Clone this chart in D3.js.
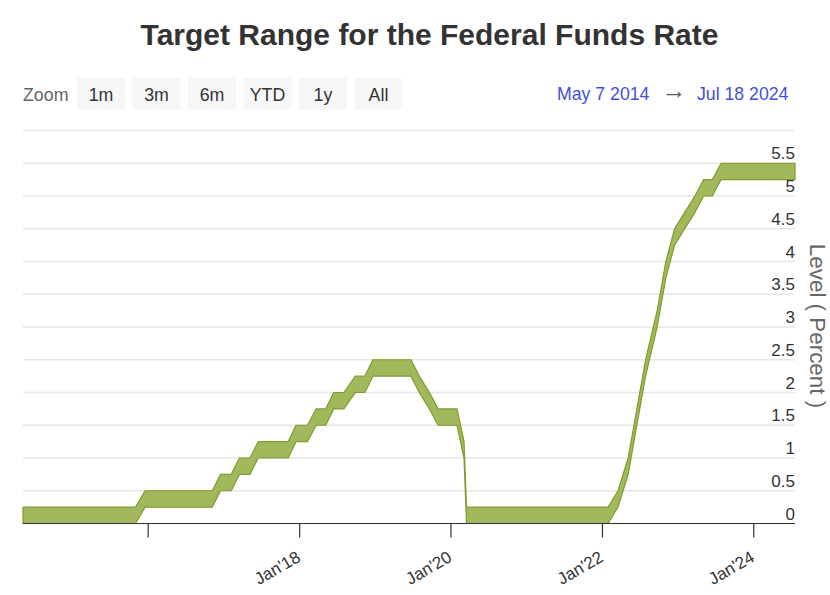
<!DOCTYPE html>
<html>
<head>
<meta charset="utf-8">
<script src="https://cdn.jsdelivr.net/npm/d3@7"></script>
<style>
    html, body { margin: 0; padding: 0; background: #fff; }
    text { font-family: "Liberation Sans", Arial, sans-serif; }
</style>
</head>
<body>
<svg id="chart" width="830" height="595"></svg>
<script>
// target range, one entry per step of the range
var dates = [
    "2014-05-07", "2015-11-01", "2015-12-17", "2016-11-05", "2016-12-15", "2017-02-05",
    "2017-03-16", "2017-05-06", "2017-06-15", "2017-11-07", "2017-12-14", "2018-02-07",
    "2018-03-22", "2018-05-07", "2018-06-14", "2018-08-02", "2018-09-27", "2018-11-12",
    "2018-12-20", "2019-06-22", "2019-08-01", "2019-09-19", "2019-10-31", "2020-01-30",
    "2020-03-04", "2020-03-16", "2022-01-28", "2022-03-17", "2022-05-05", "2022-06-16",
    "2022-07-28", "2022-09-22", "2022-11-03", "2022-12-15", "2023-02-02", "2023-03-23",
    "2023-05-04", "2023-06-15", "2023-07-27", "2024-07-18"
];
var lower = [
    0, 0, 0.25, 0.25, 0.5, 0.5,
    0.75, 0.75, 1, 1, 1.25, 1.25,
    1.5, 1.5, 1.75, 1.75, 2, 2,
    2.25, 2.25, 2, 1.75, 1.5, 1.5,
    1, 0, 0, 0.25, 0.75, 1.5,
    2.25, 3, 3.75, 4.25, 4.5, 4.75,
    5, 5, 5.25, 5.25
];
var upper = [
    0.25, 0.25, 0.5, 0.5, 0.75, 0.75,
    1, 1, 1.25, 1.25, 1.5, 1.5,
    1.75, 1.75, 2, 2, 2.25, 2.25,
    2.5, 2.5, 2.25, 2, 1.75, 1.75,
    1.25, 0.25, 0.25, 0.5, 1, 1.75,
    2.5, 3.25, 4, 4.5, 4.75, 5,
    5.25, 5.25, 5.5, 5.5
];
var yTicks = [0, 0.5, 1, 1.5, 2, 2.5, 3, 3.5, 4, 4.5, 5, 5.5, 6];
var yLabels = ["0", "0.5", "1", "1.5", "2", "2.5", "3", "3.5", "4", "4.5", "5", "5.5"];
var xTicks = ["2016-01-01", "2018-01-01", "2020-01-01", "2022-01-01", "2024-01-01"];
var xLabels = ["", "Jan'18", "Jan'20", "Jan'22", "Jan'24"];
var zoomButtons = ["1m", "3m", "6m", "YTD", "1y", "All"];

var parse = d3.utcParse("%Y-%m-%d");
var svg = d3.select("#chart");

var x = d3.scaleUtc()
    .domain([parse("2014-05-07"), parse("2024-07-18")])
    .range([23, 795]);
var y = d3.scaleLinear().domain([0, 6]).range([523.5, 130.5]);

svg.append("text")
    .attr("x", 429.5).attr("y", 45)
    .attr("text-anchor", "middle")
    .attr("font-size", 30).attr("font-weight", "bold")
    .attr("fill", "#333")
    .text("Target Range for the Federal Funds Rate");

// range selector, not functional
svg.append("text")
    .attr("x", 23).attr("y", 101)
    .attr("font-size", 17.8).attr("fill", "#666")
    .text("Zoom");

var btn = d3.scaleBand().domain(zoomButtons).range([77, 402.5]).paddingInner(0.135).paddingOuter(0);
var buttons = svg.append("g").selectAll("g").data(zoomButtons).enter().append("g");
buttons.append("rect")
    .attr("x", function (d) { return btn(d); })
    .attr("y", 78).attr("rx", 2)
    .attr("width", btn.bandwidth()).attr("height", 32)
    .attr("fill", "#f7f7f7");
buttons.append("text")
    .attr("x", function (d) { return btn(d) + btn.bandwidth() / 2; })
    .attr("y", 101)
    .attr("text-anchor", "middle")
    .attr("font-size", 17.8).attr("fill", "#333")
    .text(function (d) { return d; });

var rangeText = svg.append("g").attr("font-size", 17.7).attr("fill", "#3f51d9");
rangeText.append("text").attr("x", 557).attr("y", 100).text("May 7 2014");
rangeText.append("text").attr("x", 674).attr("y", 99).attr("text-anchor", "middle")
    .attr("font-size", 25).attr("fill", "#555").text("→");
rangeText.append("text").attr("x", 697).attr("y", 100).text("Jul 18 2024");

// grid
svg.append("g").selectAll("line").data(yTicks).enter().append("line")
    .attr("x1", 23).attr("x2", 795)
    .attr("y1", function (d) { return y(d); })
    .attr("y2", function (d) { return y(d); })
    .attr("stroke", "#e6e6e6").attr("stroke-width", 1.3);

var rows = dates.map(function (d, i) {
    return { date: parse(d), low: lower[i], high: upper[i] };
});

var area = d3.area()
    .x(function (d) { return x(d.date); })
    .y0(function (d) { return y(d.low); })
    .y1(function (d) { return y(d.high); });

svg.append("path")
    .datum(rows)
    .attr("d", area)
    .attr("fill", "#a2b85c")
    .attr("stroke", "#7f9c2c")
    .attr("stroke-width", 1.2);

// x axis
svg.append("line")
    .attr("x1", 23).attr("x2", 795)
    .attr("y1", y(0)).attr("y2", y(0))
    .attr("stroke", "#333").attr("stroke-width", 1.2);

var ticks = svg.append("g").selectAll("g").data(xTicks).enter().append("g")
    .attr("transform", function (d) { return "translate(" + x(parse(d)) + "," + y(0) + ")"; });
ticks.append("line")
    .attr("y1", 0).attr("y2", 14)
    .attr("stroke", "#333").attr("stroke-width", 1.2);
ticks.append("text")
    .attr("transform", "translate(2,37) rotate(-30)")
    .attr("text-anchor", "end")
    .attr("font-size", 17).attr("fill", "#333")
    .text(function (d, i) { return xLabels[i]; });

// y labels sit above their grid lines
svg.append("g").selectAll("text").data(yLabels).enter().append("text")
    .attr("x", 795)
    .attr("y", function (d) { return y(+d) - 4; })
    .attr("text-anchor", "end")
    .attr("font-size", 17).attr("fill", "#333")
    .text(function (d) { return d; });

svg.append("text")
    .attr("transform", "translate(810,326) rotate(90)")
    .attr("text-anchor", "middle")
    .attr("font-size", 22.4).attr("fill", "#666")
    .text("Level ( Percent )");
</script>
</body>
</html>
